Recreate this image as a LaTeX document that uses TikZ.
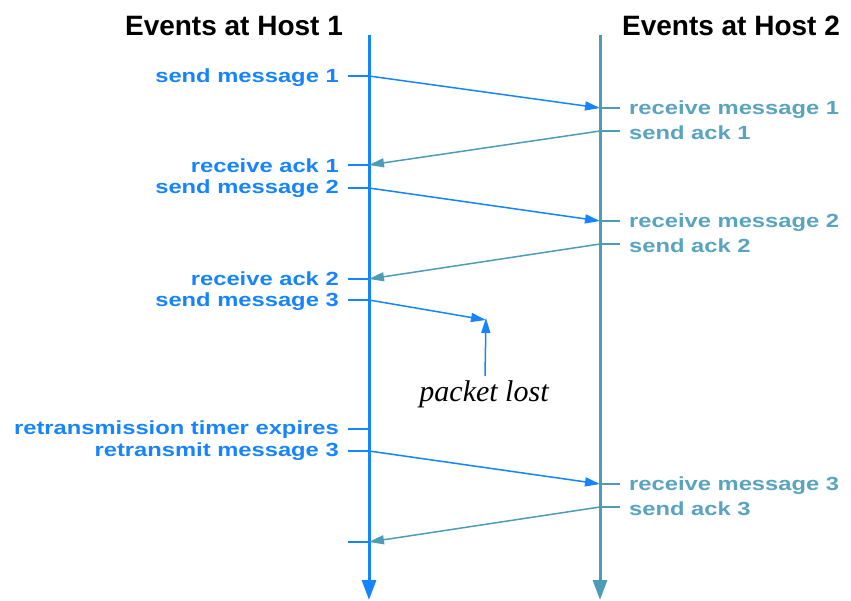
\documentclass[tikz,border=0pt]{standalone}
\usepackage{fontspec}
\setmainfont{Liberation Sans}
\newfontfamily\lblfont[FakeStretch=1.25]{Liberation Sans}
\newfontfamily\serfont{Liberation Serif}
\usetikzlibrary{arrows.meta}
\definecolor{hostA}{RGB}{22,132,255}
\definecolor{hostB}{RGB}{76,156,184}
\definecolor{hostBtxt}{RGB}{88,164,192}
\tikzset{
  lbl/.style={font=\lblfont\bfseries\fontsize{19}{20}\selectfont, inner sep=0pt},
  lblA/.style={lbl, text=hostA, anchor=east},
  lblB/.style={lbl, text=hostBtxt, anchor=west},
  hdr/.style={font=\bfseries\fontsize{28}{30}\selectfont, inner sep=0pt},
  tickA/.style={hostA, line width=2pt},
  tickB/.style={hostB, line width=2pt},
  timeA/.style={hostA, line width=3pt, -{Triangle[length=20pt,width=14pt]}},
  timeB/.style={hostB, line width=3pt, -{Triangle[length=20pt,width=14pt]}},
  msgA/.style={hostA, line width=1.5pt, -{Triangle[length=15pt,width=9pt]}},
  msgB/.style={hostB, line width=1.5pt, -{Triangle[length=15pt,width=9pt]}},
}
\begin{document}
\begin{tikzpicture}[x=1pt,y=-1pt]
\useasboundingbox (0,0) rectangle (851,601);
% headers
\node[hdr] (h1) at (234,26) {Events at Host 1};
\node[hdr] (h2) at (731,26) {Events at Host 2};
% timelines
\coordinate (a0) at (369,35);
\coordinate (a1) at (369,600);
\coordinate (b0) at (600,35);
\coordinate (b1) at (600,600);
\draw[timeA] (a0) -- (a1);
\draw[timeB] (b0) -- (b1);
% event points host 1
\coordinate (sm1) at (369,76);
\coordinate (ra1) at (369,165);
\coordinate (sm2) at (369,188);
\coordinate (ra2) at (369,279);
\coordinate (sm3) at (369,300);
\coordinate (rte) at (369,429);
\coordinate (rtm) at (369,451);
\coordinate (ra3) at (369,542);
% event points host 2
\coordinate (rm1) at (600,108);
\coordinate (sa1) at (600,131);
\coordinate (rm2) at (600,221);
\coordinate (sa2) at (600,244);
\coordinate (rm3) at (600,484);
\coordinate (sa3) at (600,507);
% ticks
\foreach \p in {sm1,ra1,sm2,ra2,sm3,rte,rtm,ra3}
  \draw[tickA] ([xshift=-21pt]\p) -- (\p);
\foreach \p in {rm1,sa1,rm2,sa2,rm3,sa3}
  \draw[tickB] (\p) -- ([xshift=20pt]\p);
% labels host 1
\node[lblA] (lsm1) at (339,78) {send message 1};
\node[lblA] (lra1) at (339,166) {receive ack 1};
\node[lblA] (lsm2) at (339,189) {send message 2};
\node[lblA] (lra2) at (339,279) {receive ack 2};
\node[lblA] (lsm3) at (339,302) {send message 3};
\node[lblA] (lrte) at (339,430) {retransmission timer expires};
\node[lblA] (lrtm) at (339,452) {retransmit message 3};
% labels host 2
\node[lblB] (lrm1) at (629,110) {receive message 1};
\node[lblB] (lsa1) at (629,133) {send ack 1};
\node[lblB] (lrm2) at (629,223) {receive message 2};
\node[lblB] (lsa2) at (629,246) {send ack 2};
\node[lblB] (lrm3) at (629,486) {receive message 3};
\node[lblB] (lsa3) at (629,509) {send ack 3};
% messages
\draw[msgA] (sm1) -- (rm1);
\draw[msgB] (sa1) -- (ra1);
\draw[msgA] (sm2) -- (rm2);
\draw[msgB] (sa2) -- (ra2);
\coordinate (lost) at (486,320);
\draw[msgA] (sm3) -- (lost);
\node[font=\serfont\itshape\fontsize{30}{32}\selectfont, inner sep=0pt] (pl) at (484,394) {packet lost};
\coordinate (plt) at (485,376);
\draw[msgA] (plt) -- ([yshift=2pt]lost);
\draw[msgA] (rtm) -- (rm3);
\draw[msgB] (sa3) -- (ra3);
\end{tikzpicture}
\end{document}
